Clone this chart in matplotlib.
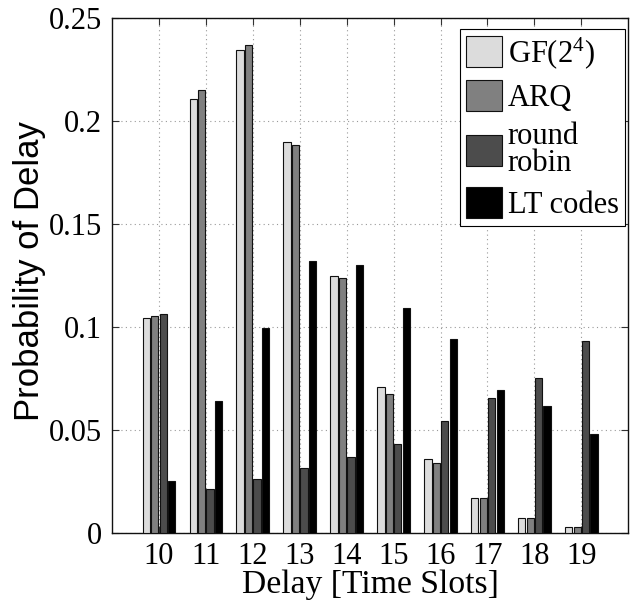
import matplotlib
matplotlib.use("Agg")
import matplotlib.pyplot as plt
import numpy as np

delays = [10, 11, 12, 13, 14, 15, 16, 17, 18, 19]
gf24 = [0.1043, 0.2108, 0.2347, 0.1900, 0.1250, 0.0708, 0.0362, 0.0170, 0.0075, 0.0033]
arq = [0.1053, 0.2152, 0.2370, 0.1887, 0.1238, 0.0675, 0.0343, 0.0170, 0.0075, 0.0033]
round_robin = [0.1063, 0.0217, 0.0262, 0.0315, 0.0368, 0.0433, 0.0547, 0.0657, 0.0755, 0.0935]
lt_codes = [0.0253, 0.0640, 0.0997, 0.1320, 0.1300, 0.1092, 0.0945, 0.0695, 0.0620, 0.0480]
series_labels = ["GF(2$^4$)", "ARQ", "round\nrobin", "LT codes"]
series = [gf24, arq, round_robin, lt_codes]
colors = ["#dcdcdc", "#808080", "#4c4c4c", "#000000"]
yticks = [0, 0.05, 0.1, 0.15, 0.2, 0.25]
ytick_labels = ["0", "0.05", "0.1", "0.15", "0.2", "0.25"]

serif = "Liberation Serif"
fs = 22

plt.rcParams["mathtext.fontset"] = "custom"
plt.rcParams["mathtext.rm"] = serif
plt.rcParams["mathtext.it"] = serif

fig = plt.figure(figsize=(6.39, 6.01), dpi=100)
ax = fig.add_axes([112/639, 1-533.3/601, (628.3-112)/639, (533.3-18.3)/601])

x = np.array(delays, dtype=float)
step = 0.18
width = 0.155
for i, (vals, c, lab) in enumerate(zip(series, colors, series_labels)):
    ax.bar(x + (i - 1.5) * step, vals, width=width, color=c, edgecolor="#111111",
           linewidth=0.8, label=lab, zorder=3)

ax.set_xlim(9, 20)
ax.set_ylim(0, 0.25)
ax.set_xticks(delays)
ax.set_xticklabels([str(d) for d in delays], fontfamily=serif, fontsize=fs)
ax.set_yticks(yticks)
ax.set_yticklabels(ytick_labels, fontfamily=serif, fontsize=fs)
ax.tick_params(direction="in", length=5, width=0.8, top=True, right=True, color="#333333")
ax.tick_params(axis="x", pad=6)
ax.tick_params(axis="y", pad=7)
ax.grid(True, linestyle=(0, (1, 3)), color="#999999", linewidth=0.8, zorder=0)
ax.set_axisbelow(True)
for s in ax.spines.values():
    s.set_linewidth(1.0)
    s.set_color("#111111")

ax.set_xlabel("Delay [Time Slots]", fontfamily=serif, fontsize=24.2)
ax.xaxis.set_label_coords(0.5, -0.071)
ax.set_ylabel("Probability of Delay", fontfamily="Liberation Sans", fontsize=25)
ax.yaxis.set_label_coords(-0.128, 0.51)

leg = ax.legend(loc="upper right", bbox_to_anchor=(0.9936, 0.9792),
                prop={"family": serif, "size": fs},
                handlelength=1.17, handleheight=1.2, handletextpad=0.2,
                labelspacing=0.3, borderpad=0.2, borderaxespad=0.0,
                fancybox=False, framealpha=1, edgecolor="black")
leg.get_texts()[2].set_linespacing(0.9)
leg.get_frame().set_linewidth(0.8)

fig.savefig("out.png", dpi=100)
